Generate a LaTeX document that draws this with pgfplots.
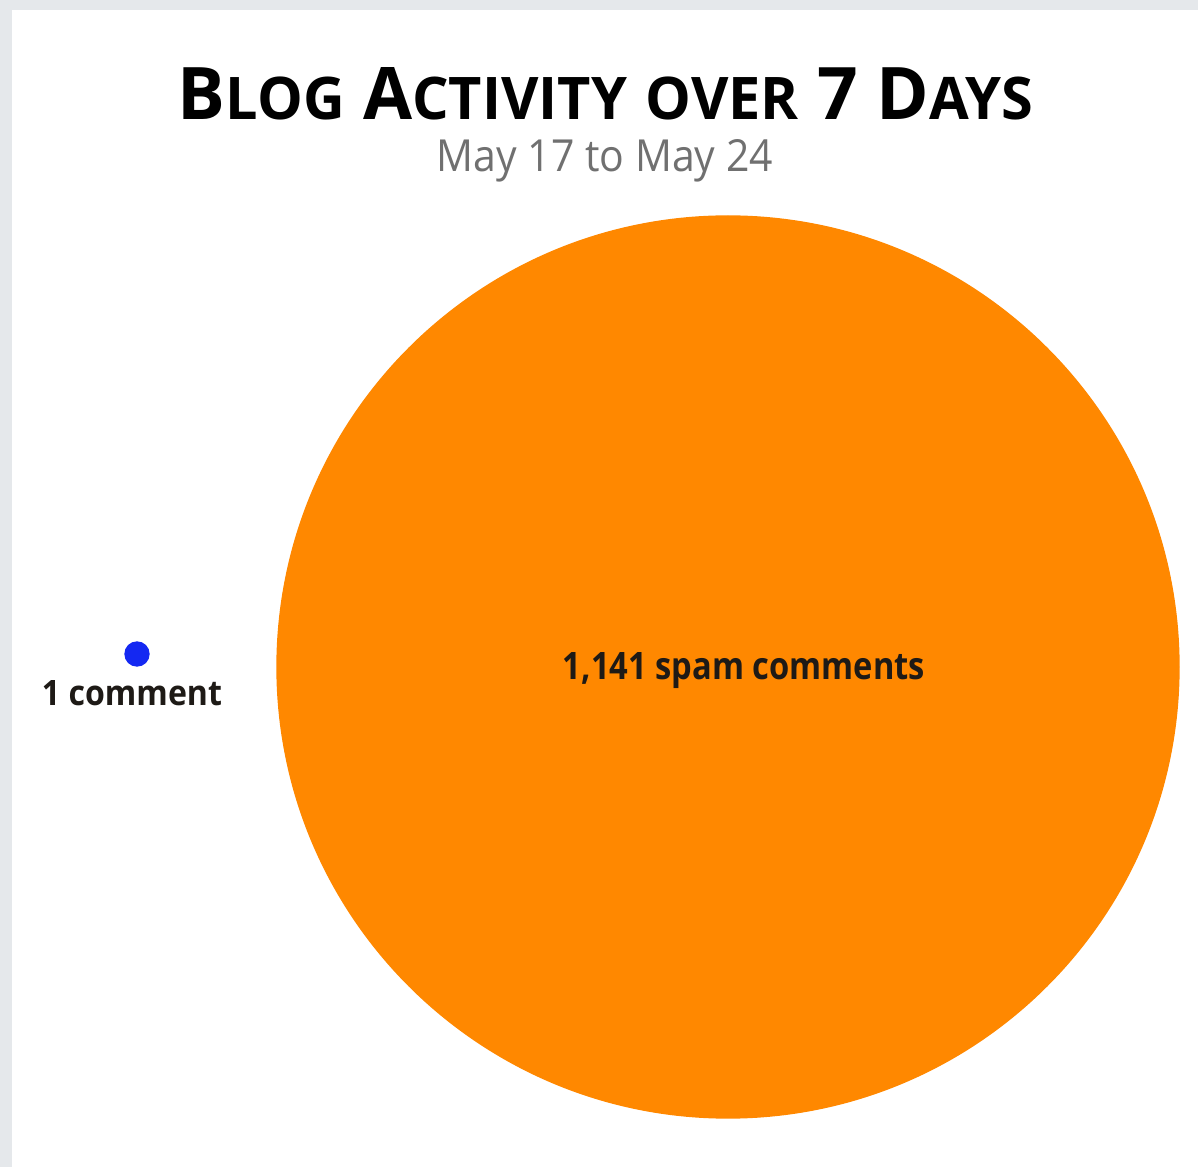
\documentclass[border=0pt]{standalone}
\usepackage{pgfplots}
\pgfplotsset{compat=1.18}
\usepackage{fontspec}
\setmainfont{Open Sans}
\definecolor{bggray}{HTML}{E5E8EB}
\definecolor{spamorange}{HTML}{FF8800}
\definecolor{commentblue}{HTML}{1428F2}
\definecolor{subgray}{HTML}{707070}
\definecolor{labeltext}{HTML}{1E1A16}
% fake small caps: big initial, smaller rest
\newcommand{\fsc}[2]{{\fontsize{10}{12}\selectfont #1}{\fontsize{8.1}{10}\selectfont #2}}
\begin{document}
\begin{tikzpicture}
  % page background and white panel (1 px = 0.3pt)
  \fill[bggray] (0,0) rectangle (359.4pt,350.1pt);
  \fill[white] (3.6pt,0) rectangle (359.4pt,347.1pt);
  \path[use as bounding box] (0,0) rectangle (359.4pt,350.1pt);
  \begin{axis}[
      at={(0,0)}, anchor=south west,
      scale only axis,
      width=359.4pt, height=350.1pt,
      xmin=0, xmax=1198,
      ymin=0, ymax=1167,
      y dir=reverse,
      axis lines=none,
      clip=false,
    ]

    % spam comments
    \addplot[
      color=spamorange,
      only marks,
      mark=*,
      mark size=135.3pt,
    ]
    coordinates {
        (728,667)
      };

    % comments
    \addplot[
      color=commentblue,
      only marks,
      mark=*,
      mark size=3.6pt,
    ]
    coordinates {
        (137,654)
      };

    \coordinate (title) at (axis cs:605.5,120);
    \coordinate (sub) at (axis cs:605,172);
    \coordinate (lblc) at (axis cs:132,706);
    \coordinate (lbls) at (axis cs:744,680);
  \end{axis}

  \node[anchor=base, inner sep=0] at (title)
    {\resizebox{256.5pt}{15.6pt}{\bfseries \fsc{B}{LOG} \fsc{A}{CTIVITY} \fsc{}{OVER} \fsc{7}{} \fsc{D}{AYS}}};
  \node[anchor=base, inner sep=0, text=subgray] at (sub)
    {\resizebox{100.8pt}{9.6pt}{May 17 to May 24}};
  \node[anchor=base, inner sep=0, text=labeltext] at (lblc)
    {\resizebox{54pt}{7.5pt}{\bfseries 1 comment}};
  \node[anchor=base, inner sep=0, text=labeltext] at (lbls)
    {\resizebox{108.6pt}{8.1pt}{\bfseries 1,141 spam comments}};
\end{tikzpicture}
\end{document}
